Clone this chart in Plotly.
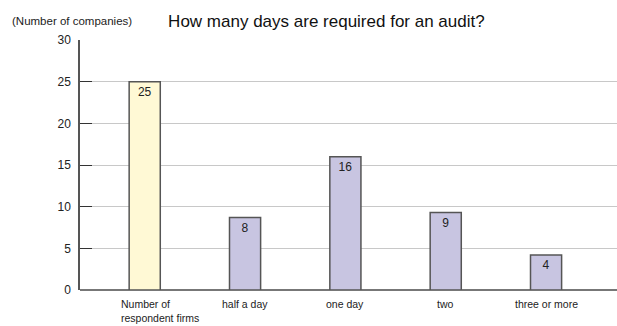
import plotly.graph_objects as go

categories = ["Number of<br>respondent firms", "half a day", "one day", "two", "three or more"]
bar_heights = [25, 8.7, 16, 9.3, 4.2]
value_labels = ["25", "8", "16", "9", "4"]
bar_colors = ["#FFF9D5", "#C8C5E1", "#C8C5E1", "#C8C5E1", "#C8C5E1"]
y_ticks = [0, 5, 10, 15, 20, 25, 30]

FONT = "Liberation Sans, Arial, Helvetica, sans-serif"
xs = list(range(len(categories)))

fig = go.Figure()
fig.add_trace(go.Bar(
    x=xs, y=bar_heights, width=0.31,
    marker=dict(color=bar_colors, line=dict(color="#555555", width=1.5)),
    text=value_labels, textposition="inside", insidetextanchor="end",
    textangle=0,
    textfont=dict(family=FONT, size=12, color="#222222"),
    hoverinfo="skip",
))

annotations = []
for i, c in enumerate(categories):
    if i == 0:
        annotations.append(dict(x=i - 0.245, xref="x", y=-0.026, yref="paper",
                                text=c, showarrow=False, xanchor="left", yanchor="top",
                                align="left", borderpad=0,
                                font=dict(family=FONT, size=10.5, color="#222222")))
    else:
        annotations.append(dict(x=i, xref="x", y=-0.026, yref="paper",
                                text=c, showarrow=False, xanchor="center", yanchor="top",
                                align="center", borderpad=0,
                                font=dict(family=FONT, size=10.5, color="#222222")))
annotations.append(dict(x=-0.13, xref="paper", y=1.076, yref="paper",
                        text="(Number of companies)", showarrow=False,
                        xanchor="left", yanchor="middle",
                        font=dict(family=FONT, size=11.5, color="#222222")))

fig.update_layout(
    width=617, height=326,
    margin=dict(l=80, r=0, t=40, b=36),
    paper_bgcolor="white", plot_bgcolor="white",
    showlegend=False,
    title=dict(text="How many days are required for an audit?", x=0.529, xanchor="center",
               y=1 - 21 / 326, yanchor="middle",
               font=dict(family=FONT, size=17, color="#111111")),
    annotations=annotations,
    xaxis=dict(range=[-0.645, 4.707], showticklabels=False, ticks="",
               showgrid=False, zeroline=False, showline=False, fixedrange=True),
    yaxis=dict(range=[0, 30], tickvals=y_ticks, ticks="inside", ticklen=12,
               tickcolor="#333333", tickwidth=1.2, ticklabelstandoff=5,
               showgrid=True, gridcolor="#C8C8C8", gridwidth=1,
               showline=True, linecolor="#555555", linewidth=1.5,
               zeroline=True, zerolinecolor="#777777", zerolinewidth=2,
               tickfont=dict(family=FONT, size=12, color="#222222"),
               fixedrange=True),
)

fig.write_html("out.html")
